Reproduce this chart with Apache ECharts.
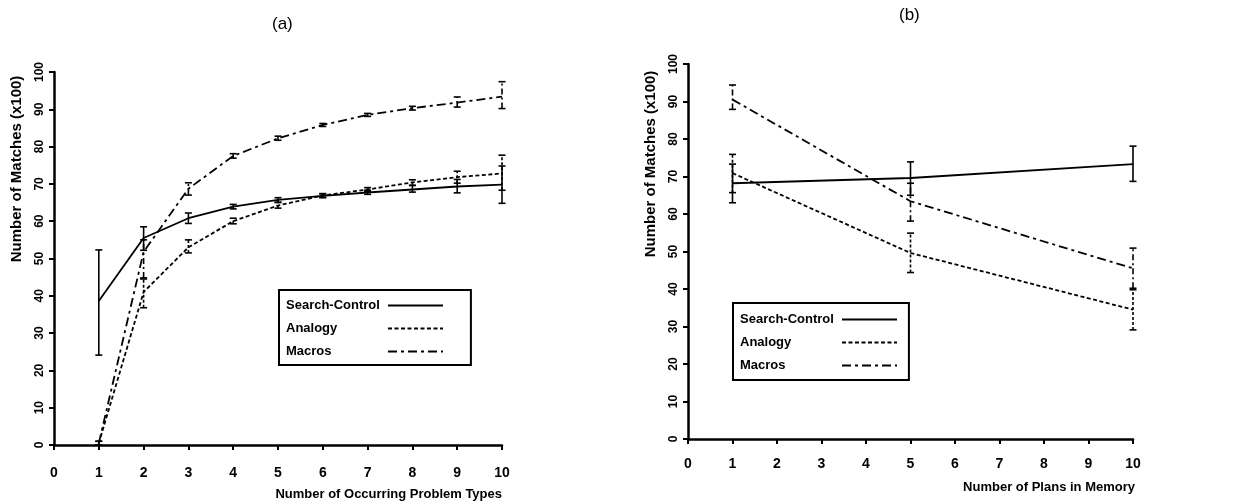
<!DOCTYPE html>
<html><head><meta charset="utf-8">
<script src="https://cdn.jsdelivr.net/npm/echarts@6/dist/echarts.min.js"></script>
<style>html,body{margin:0;padding:0;background:#fff}#c{width:1243px;height:502px}</style>
</head><body><div id="c"></div>
<script>
// Panel (a): Number of Occurring Problem Types
const xA = [1,2,3,4,5,6,7,8,9,10];
const scA = [38.6, 55.5, 60.8, 63.9, 65.7, 66.8, 67.7, 68.5, 69.3, 69.8];
const scA_lo = [24.1, 52.2, 59.4, 63.3, 65.1, 66.3, 67.2, 67.8, 67.6, 64.8];
const scA_hi = [52.3, 58.5, 62.2, 64.5, 66.3, 67.3, 68.3, 69.6, 71.2, 74.8];
const anA = [0.5, 41.0, 53.0, 60.0, 64.2, 66.9, 68.5, 70.4, 71.8, 72.8];
const anA_lo = [0.0, 36.8, 51.5, 59.3, 63.5, 66.4, 68.0, 69.6, 70.2, 68.3];
const anA_hi = [1.0, 44.5, 55.0, 60.8, 65.0, 67.4, 69.0, 71.1, 73.4, 77.7];
const maA = [0.5, 51.8, 68.7, 77.5, 82.2, 85.8, 88.5, 90.3, 91.8, 93.4];
const maA_lo = [0.0, 44.8, 67.0, 76.9, 81.7, 85.4, 88.1, 89.8, 90.6, 90.2];
const maA_hi = [1.0, 55.0, 70.3, 78.1, 82.8, 86.2, 88.9, 90.8, 93.3, 97.4];
// Panel (b): Number of Plans in Memory
const xB = [1, 5, 10];
const scB = [68.2, 69.6, 73.3];
const scB_lo = [63.0, 65.0, 68.7];
const scB_hi = [73.3, 73.9, 78.1];
const anB = [70.9, 49.6, 34.5];
const anB_lo = [65.7, 44.4, 29.1];
const anB_hi = [75.9, 54.9, 39.8];
const maB = [90.5, 63.4, 45.5];
const maB_lo = [87.9, 58.1, 40.2];
const maB_hi = [94.4, 68.2, 50.9];
const xTicks = [0,1,2,3,4,5,6,7,8,9,10];
const yTicks = [0,10,20,30,40,50,60,70,80,90,100];
const names = ['Search-Control', 'Analogy', 'Macros'];

const FONT = 'Liberation Sans';
const dashAn = [4, 2.5];
const dashMa = [9, 4, 3, 4];

function pairs(xs, ys){ return xs.map((x,i)=>[x, ys[i]]); }
function triples(xs, lo, hi){ return xs.map((x,i)=>[x, lo[i], hi[i]]); }

function errRender(dash){
  return function(params, api){
    const x = api.value(0);
    const p1 = api.coord([x, api.value(1)]);
    const p2 = api.coord([x, api.value(2)]);
    const w = 3.5;
    const st = {stroke:'#000', lineWidth:1.6, lineDash: dash || null, fill:null};
    const cap = {stroke:'#000', lineWidth:1.6, fill:null};
    return {type:'group', children:[
      {type:'line', shape:{x1:p1[0], y1:p1[1], x2:p2[0], y2:p2[1]}, style:st},
      {type:'line', shape:{x1:p1[0]-w, y1:p1[1], x2:p1[0]+w, y2:p1[1]}, style:cap},
      {type:'line', shape:{x1:p2[0]-w, y1:p2[1], x2:p2[0]+w, y2:p2[1]}, style:cap}
    ]};
  };
}

function xAxisDef(gi, margin){
  return {type:'value', gridIndex:gi, min:0, max:10, interval:1,
    axisLine:{show:true, onZero:false, lineStyle:{color:'#000', width:2.5}},
    axisTick:{show:true, length:5, lineStyle:{color:'#000', width:2}},
    axisLabel:{color:'#000', fontFamily:FONT, fontWeight:'bold', fontSize:14, margin:margin},
    splitLine:{show:false}};
}
function yAxisDef(gi){
  return {type:'value', gridIndex:gi, min:0, max:100, interval:10,
    axisLine:{show:true, onZero:false, lineStyle:{color:'#000', width:2.5}},
    axisTick:{show:true, length:5, lineStyle:{color:'#000', width:2}},
    axisLabel:{color:'#000', fontFamily:FONT, fontWeight:'bold', fontSize:12, rotate:90, margin:8},
    splitLine:{show:false}};
}

function lineSeries(name, data, gi, dash){
  return {type:'line', name:name, xAxisIndex:gi, yAxisIndex:gi, data:data,
    symbol:'none', smooth:false, animation:false, z:3,
    lineStyle:{color:'#000', width:1.8, type: dash || 'solid'},
    itemStyle:{color:'#000'}};
}
function errSeries(name, data, gi, dash){
  return {type:'custom', name:name, xAxisIndex:gi, yAxisIndex:gi, data:data,
    coordinateSystem:'cartesian2d', encode:{x:0, y:[1,2]}, animation:false, z:4,
    renderItem: errRender(dash)};
}

const legendCommon = {orient:'vertical', align:'right',
  itemWidth:55, itemHeight:14, borderColor:'#000', borderWidth:2, borderRadius:0,
  backgroundColor:'#fff', selectedMode:false, data:names,
  itemStyle:{color:'rgba(0,0,0,0)', borderWidth:0, opacity:0},
  lineStyle:{color:'#000', width:1.8},
  formatter:'{n|{name}}',
  textStyle:{color:'#000', fontFamily:FONT, fontWeight:'bold', fontSize:13,
    rich:{n:{width:97, align:'left', color:'#000', fontFamily:FONT, fontWeight:'bold', fontSize:13}}}};

const chart = echarts.init(document.getElementById('c'), null, {renderer:'canvas'});
chart.setOption({
  backgroundColor:'#fff',
  animation:false,
  grid:[
    {left:54, right:741, top:72, bottom:57},
    {left:688, right:110, top:64, bottom:63}
  ],
  xAxis:[xAxisDef(0, 21), xAxisDef(1, 18)],
  yAxis:[yAxisDef(0), yAxisDef(1)],
  legend:[
    Object.assign({}, legendCommon, {left:279, top:290, itemGap:10, padding:[9,27,7,7]}),
    Object.assign({}, legendCommon, {left:733, top:303, itemGap:10, padding:[10,11,8,7]})
  ],
  graphic:[
    {type:'text', left:272, top:16, style:{text:'(a)', font:'17px "Liberation Sans"', fill:'#000'}},
    {type:'text', left:899, top:7, style:{text:'(b)', font:'17px "Liberation Sans"', fill:'#000'}},
    {type:'text', x:17, y:169, rotation:Math.PI/2, style:{text:'Number of Matches (x100)', font:'bold 15px "Liberation Sans"', fill:'#000', align:'center', verticalAlign:'middle'}},
    {type:'text', x:651, y:164, rotation:Math.PI/2, style:{text:'Number of Matches (x100)', font:'bold 15px "Liberation Sans"', fill:'#000', align:'center', verticalAlign:'middle'}},
    {type:'text', x:502, y:494, style:{text:'Number of Occurring Problem Types', font:'bold 13px "Liberation Sans"', fill:'#000', align:'right', verticalAlign:'middle'}},
    {type:'text', x:1135, y:487, style:{text:'Number of Plans in Memory', font:'bold 13px "Liberation Sans"', fill:'#000', align:'right', verticalAlign:'middle'}}
  ],
  series:[
    lineSeries(names[0], pairs(xA, scA), 0, null),
    lineSeries(names[1], pairs(xA, anA), 0, dashAn),
    lineSeries(names[2], pairs(xA, maA), 0, dashMa),
    errSeries('sc-err-a', triples(xA, scA_lo, scA_hi), 0, null),
    errSeries('an-err-a', triples(xA, anA_lo, anA_hi), 0, [3,2]),
    errSeries('ma-err-a', triples(xA, maA_lo, maA_hi), 0, [6,3,2,3]),
    lineSeries(names[0], pairs(xB, scB), 1, null),
    lineSeries(names[1], pairs(xB, anB), 1, dashAn),
    lineSeries(names[2], pairs(xB, maB), 1, dashMa),
    errSeries('sc-err-b', triples(xB, scB_lo, scB_hi), 1, null),
    errSeries('an-err-b', triples(xB, anB_lo, anB_hi), 1, [3,2]),
    errSeries('ma-err-b', triples(xB, maB_lo, maB_hi), 1, [6,3,2,3])
  ]
});
</script></body></html>
